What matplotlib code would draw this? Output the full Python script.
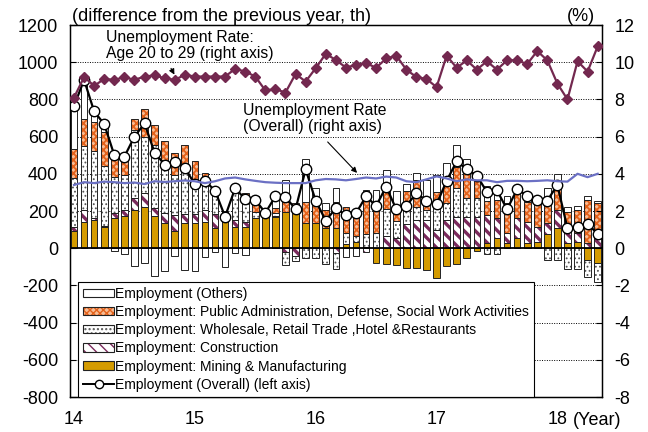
import numpy as np
import matplotlib
matplotlib.use("Agg")
import matplotlib.pyplot as plt
from matplotlib.patches import Patch
from matplotlib.lines import Line2D

plt.rcParams["font.family"] = ["Liberation Sans", "DejaVu Sans"]
plt.rcParams["axes.unicode_minus"] = False

# monthly, Jan 2014 .. May 2018 (thousand persons, y/y change)
year_pos = [0, 12, 24, 36, 48]
year_labels = ["14", "15", "16", "17", "18"]

mining = [93, 140, 149, 113, 160, 174, 204, 222, 175, 138, 91, 138, 134, 143, 107, 150, 116, 116,
          161, 170, 166, 192, 192, 138, 138, 107, 110, 25, 36, 5, -77, -84, -89, -105, -107, -116,
          -161, -98, -84, -54, -14, 27, 54, 27, 54, 27, 36, 77, 107, 27, 36, -63, -81]
construction = [23, 66, 16, 5, 27, 32, 64, 73, 39, 50, 88, 45, 48, 63, 75, 5, 36, 27,
                0, 0, 5, -23, -41, 0, 0, 0, -25, 0, 0, -23, 0, 63, 55, 130, 152, 152,
                98, 152, 170, 170, 170, 152, 107, 54, 107, 116, 80, 57, 98, 72, 45, 27, 54]
wholesale = [260, 345, 355, 326, 197, 188, 367, 304, 340, 286, 215, 265, 175, 152, 149, 45, 188, 134,
             36, 0, 20, -68, -27, -55, -54, -86, -88, 55, 27, 70, 80, 150, 90, 100, 72, 54,
             152, 90, 152, 100, 98, -30, -30, 0, 0, 0, 0, -63, -63, -113, -113, -93, -102]
public_admin = [156, 141, 156, 179, 93, 80, 57, 152, 107, 102, 120, 107, 111, 48, 0, 0, 0, 22,
                45, 0, 27, 59, 50, 110, 120, 98, 140, 140, 120, 200, 135, 125, 75, 75, 143, 71,
                54, 107, 116, 150, 107, 77, 100, 161, 134, 107, 134, 107, 125, 98, 125, 233, 188]
others = [238, 211, 59, 54, -14, -32, -95, -80, -149, -122, -41, -116, -122, -45, -18, -100, -27, -36,
          36, 20, 59, 113, 0, 230, 64, 36, 72, -45, -40, 40, 98, 85, 85, 42, 36, 90,
          90, 107, 117, 58, 30, 79, 54, 39, 18, 39, 27, 81, 68, 23, 23, 21, 14]
overall = [765, 905, 735, 667, 500, 492, 600, 671, 514, 449, 465, 433, 343, 363, 309, 170, 322, 264,
           260, 190, 279, 275, 210, 424, 255, 148, 215, 177, 188, 279, 227, 331, 209, 227, 297, 255,
           236, 362, 467, 424, 390, 303, 311, 209, 317, 283, 260, 256, 340, 107, 113, 131, 77]
rate_young = [8.1, 9.2, 8.73, 9.1, 9.05, 9.2, 9.05, 9.23, 9.29, 9.14, 9.05, 9.32, 9.23, 9.23, 9.23, 9.23,
              9.64, 9.5, 9.23, 8.48, 8.55, 8.37, 9.37, 8.96, 9.68, 10.45, 10.12, 9.71, 9.86, 9.95, 9.7,
              10.2, 10.35, 9.6, 9.2, 9.1, 8.66, 10.35, 9.7, 10.1, 9.6, 10.05, 9.6, 10.1, 10.1, 9.9,
              10.6, 10.1, 8.85, 8.0, 10.05, 9.5, 10.85]
rate_all = [3.4, 3.55, 3.5, 3.58, 3.55, 3.5, 3.53, 3.45, 3.6, 3.56, 3.6, 3.64, 3.6, 3.5, 3.6, 3.75,
            3.8, 3.7, 3.62, 3.55, 3.52, 3.5, 3.5, 3.5, 3.65, 3.72, 3.7, 3.65, 3.72, 3.8, 3.75, 3.85,
            3.8, 3.6, 3.55, 3.7, 3.86, 3.75, 3.6, 3.7, 3.65, 3.65, 3.55, 3.62, 3.62, 3.6, 3.62, 3.65,
            3.6, 3.58, 4.0, 3.82, 4.0]

labels = ["Employment (Others)",
          "Employment: Public Administration, Defense, Social Work Activities",
          "Employment: Wholesale, Retail Trade ,Hotel &Restaurants",
          "Employment: Construction",
          "Employment: Mining & Manufacturing",
          "Employment (Overall) (left axis)"]

# (values, face, hatch, hatch colour, hatch lw) bottom -> top
styles = [
    (mining, "#D49B00", None, "#D49B00", 1.0),
    (construction, "white", "\\\\\\", "#7A2A5C", 2.4),
    (wholesale, "white", "....", "#555555", 0.8),
    (public_admin, "#F8BC94", "xxxxx", "#E4621B", 1.3),
    (others, "white", None, "white", 1.0),
]

fig = plt.figure(figsize=(6.48, 4.32), dpi=100)
ax = fig.add_axes([70 / 648, 1 - 397 / 432, 531.7 / 648, 372 / 432])

x = np.arange(len(overall))
width = 0.66
pos_b = np.zeros(len(x))
neg_b = np.zeros(len(x))
handles = []
for vals, face, hatch, hcol, hlw in styles:
    v = np.array(vals, dtype=float)
    bottom = np.where(v >= 0, pos_b, neg_b)
    m = v != 0
    with plt.rc_context({"hatch.linewidth": hlw}):
        bars = ax.bar(x[m], v[m], width, bottom=bottom[m], color=face, hatch=hatch,
                      edgecolor=hcol, linewidth=0, zorder=2)
        hp = Patch(facecolor=face, hatch=hatch, edgecolor=hcol, linewidth=0)
    for p in list(bars) + [hp]:
        if hasattr(p, "set_hatch_linewidth"):
            p.set_hatch_linewidth(hlw)
    ax.bar(x[m], v[m], width, bottom=bottom[m], fill=False, edgecolor="#222222",
           linewidth=0.7, zorder=3)
    pos_b += np.where(v > 0, v, 0)
    neg_b += np.where(v < 0, v, 0)
    handles.append((hp, Patch(fill=False, edgecolor="#222222", linewidth=0.8)))

ax.plot(x, overall, color="black", lw=1.6, marker="o", ms=7.5, mfc="white",
        mec="black", mew=1.0, zorder=5)

ax.axhline(0, color="black", lw=1.3, zorder=4)
for g in [-600, -400, -200, 200, 400, 600, 800, 1000]:
    ax.axhline(g, color="black", lw=0.7, ls=(0, (1, 1.5)), zorder=1)

ax.set_xlim(-0.4, 52.4)
ax.set_ylim(-800, 1200)
ax.set_yticks(range(-800, 1201, 200))
ax.set_xticks(year_pos)
ax.set_xticklabels(year_labels)
ax.tick_params(axis="y", direction="in", length=4, width=0.8, pad=8.5, labelsize=13)
ax.tick_params(axis="x", length=0, pad=10, labelsize=13)
for s in ax.spines.values():
    s.set_linewidth(1.0)

ax2 = ax.twinx()
ax2.plot(x, rate_all, color="#6B70C4", lw=1.6, zorder=3)
ax2.plot(x, rate_young, color="#73284F", lw=1.6, marker="D", ms=5.5, zorder=4)
ax2.set_ylim(-8, 12)
ax2.set_yticks(range(-8, 13, 2))
ax2.tick_params(axis="y", direction="in", length=4, width=0.8, pad=9, labelsize=13)
ax2.set_xlim(-0.4, 52.4)

overall_h = Line2D([], [], color="black", lw=1.4, marker="o", ms=6, mfc="white", mec="black")
order = [4, 3, 2, 1, 0]
leg_handles = [handles[i] for i in order] + [overall_h]
leg = ax.legend(leg_handles, labels, loc="lower left", bbox_to_anchor=(0.015, 0.0),
                borderaxespad=0, fontsize=10, handlelength=2.2, handleheight=0.55,
                handletextpad=0.1, labelspacing=0.3, borderpad=0.38, fancybox=False,
                framealpha=1, edgecolor="black")
leg.get_frame().set_linewidth(0.8)
leg.set_zorder(10)

fig.text(72 / 648, 1 - 21 / 432, "(difference from the previous year, th)", fontsize=13,
         va="baseline", ha="left")
fig.text(567 / 648, 1 - 21 / 432, "(%)", fontsize=13, va="baseline", ha="left")
fig.text(573 / 648, 1 - 425 / 432, "(Year)", fontsize=13, va="baseline", ha="left")

fig.text(106 / 648, 1 - 30 / 432, "Unemployment Rate:\nAge 20 to 29 (right axis)",
         fontsize=11.3, va="top", ha="left", linespacing=1.1)
fig.text(243 / 648, 1 - 103 / 432, "Unemployment Rate\n(Overall) (right axis)",
         fontsize=11.3, va="top", ha="left", linespacing=1.1)

ax2.annotate("", xy=(10.1, 9.2), xytext=(9.5, 9.8),
             arrowprops=dict(arrowstyle="-|>", color="black", lw=0.8, mutation_scale=8))
ax2.annotate("", xy=(28.3, 3.94), xytext=(25.0, 5.82),
             arrowprops=dict(arrowstyle="-|>", color="black", lw=0.8, mutation_scale=8))

fig.savefig("out.png", dpi=100)
